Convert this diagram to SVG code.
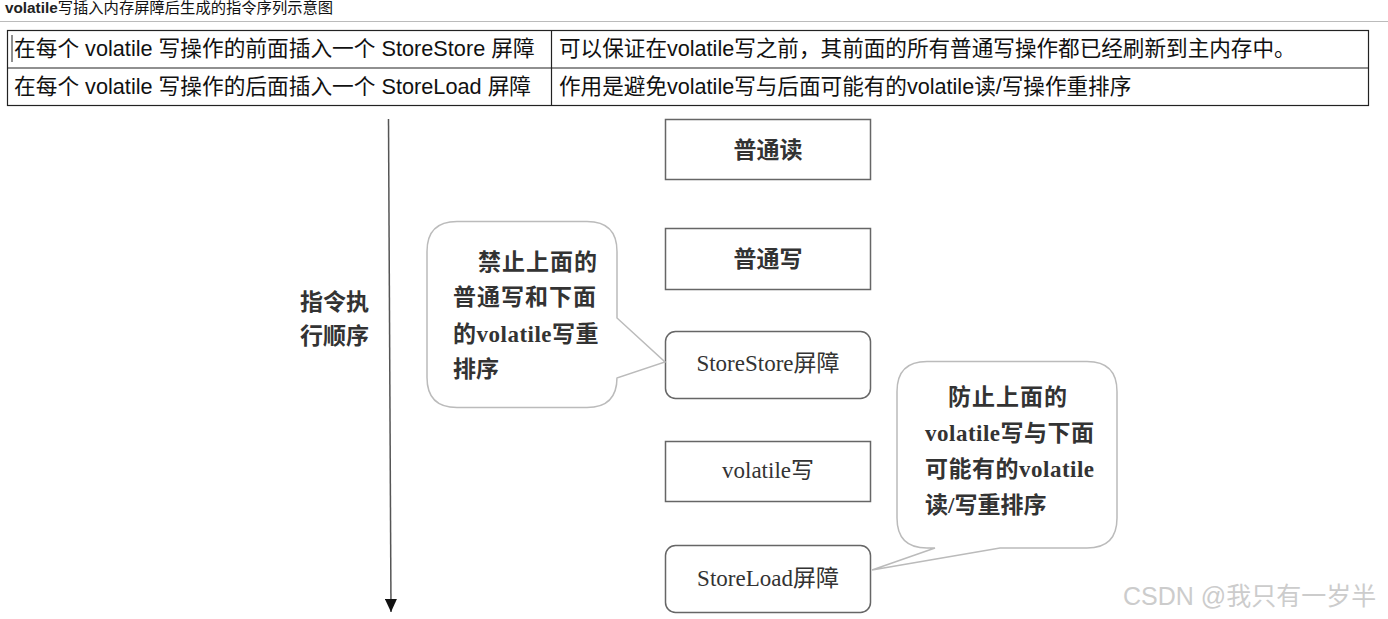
<svg xmlns="http://www.w3.org/2000/svg" width="1388" height="619" viewBox="0 0 1388 619">
<style>
.t{font-family:"Liberation Sans","Noto Sans CJK SC",sans-serif;fill:#111}
.d{font-family:"Liberation Serif","Noto Sans CJK SC",serif;fill:#333;font-size:23px;font-weight:bold}
.n{font-weight:normal}
.box{fill:#fff;stroke:#666;stroke-width:1.5}
.bub{fill:#fff;stroke:#bbb;stroke-width:1.5}
</style>
<defs>
<marker id="ah" markerWidth="14" markerHeight="12" refX="13" refY="6" orient="auto" markerUnits="userSpaceOnUse">
<path d="M0,0 L13,6 L0,12 Z" fill="#111"/>
</marker>
</defs>
<rect width="1388" height="619" fill="#fff"/>
<text class="t" x="5" y="13" font-size="15.3" fill="#444"><tspan font-weight="bold" fill="#222">volatile</tspan>写插入内存屏障后生成的指令序列示意图</text>
<line x1="0" y1="21.5" x2="1388" y2="21.5" stroke="#bbb" stroke-width="1"/>
<g id="table">
<rect x="7.5" y="30.5" width="1361" height="75" fill="#fff" stroke="#222" stroke-width="1.2"/>
<line x1="7.5" y1="68" x2="1368.5" y2="68" stroke="#222" stroke-width="1.2"/>
<line x1="551.5" y1="30.5" x2="551.5" y2="105.5" stroke="#222" stroke-width="1.2"/>
<line x1="12" y1="35" x2="12" y2="62" stroke="#222" stroke-width="1"/>
<text class="t" x="14" y="56" font-size="21.7">在每个 volatile 写操作的前面插入一个 StoreStore 屏障</text>
<text class="t" x="14" y="94" font-size="21.7">在每个 volatile 写操作的后面插入一个 StoreLoad 屏障</text>
<text class="t" x="559" y="56" font-size="21.6">可以保证在volatile写之前，其前面的所有普通写操作都已经刷新到主内存中。</text>
<text class="t" x="559" y="94" font-size="21.6">作用是避免volatile写与后面可能有的volatile读/写操作重排序</text>
</g>
<g id="connectors">
<line x1="388.5" y1="119" x2="391" y2="612" stroke="#555" stroke-width="1.5" marker-end="url(#ah)"/>
</g>
<g id="axis-label">
<text class="d" x="300" y="310">指令执</text>
<text class="d" x="300" y="344">行顺序</text>
</g>
<g id="n1"><rect class="box" x="665.5" y="119.5" width="205" height="60"/><text class="d" x="768" y="158" text-anchor="middle">普通读</text></g>
<g id="n2"><rect class="box" x="665.5" y="228.5" width="205" height="61"/><text class="d" x="768" y="267" text-anchor="middle">普通写</text></g>
<g id="n3"><rect class="box" x="665.5" y="331.5" width="205" height="67" rx="10"/><text class="d n" x="768" y="371" text-anchor="middle">StoreStore屏障</text></g>
<g id="n4"><rect class="box" x="665.5" y="441.5" width="205" height="60" stroke="#999"/><text class="d n" x="768" y="478" text-anchor="middle">volatile写</text></g>
<g id="n5"><rect class="box" x="665.5" y="545.5" width="205" height="67" rx="10"/><text class="d n" x="768" y="586" text-anchor="middle">StoreLoad屏障</text></g>
<g id="callout1">
<path class="bub" d="M457,221.5 H587 Q617,221.5 617,251.5 V318 L665,362 L617,378 V377.5 Q617,407.5 587,407.5 H457 Q427,407.5 427,377.5 V251.5 Q427,221.5 457,221.5 Z"/>
<text class="d" x="478" y="270" letter-spacing="1">禁止上面的</text>
<text class="d" x="453" y="305" letter-spacing="1">普通写和下面</text>
<text class="d" x="453" y="342" letter-spacing="0.5">的volatile写重</text>
<text class="d" x="453" y="377">排序</text>
</g>
<g id="callout2">
<path class="bub" d="M927,361.5 H1087 Q1117,361.5 1117,391.5 V518 Q1117,548 1087,548 H1000 L872,570 L935,548 H927 Q897,548 897,518 V391.5 Q897,361.5 927,361.5 Z"/>
<text class="d" x="1008" y="405" text-anchor="middle" letter-spacing="1">防止上面的</text>
<text class="d" x="925" y="441" letter-spacing="0.5">volatile写与下面</text>
<text class="d" x="925" y="477" letter-spacing="0.5">可能有的volatile</text>
<text class="d" x="925" y="513">读/写重排序</text>
</g>
<text x="1123" y="605" font-family="Liberation Sans,Noto Sans CJK SC,sans-serif" font-size="25" fill="#ccc">CSDN @我只有一岁半</text>
</svg>
